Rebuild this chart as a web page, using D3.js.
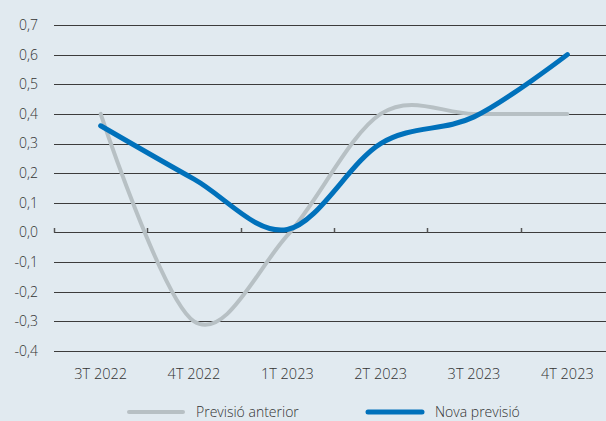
<!DOCTYPE html>
<html>
<head>
<meta charset="utf-8">
<script src="https://cdn.jsdelivr.net/npm/d3@7"></script>
<style>
  body { margin: 0; background: #e1eaf0; }
  svg { display: block; font-family: "Open Sans", sans-serif; font-weight: 300; }
</style>
</head>
<body>
<div id="chart"></div>
<script>
// Quarters on the x axis
const quarters = ["3T 2022", "4T 2022", "1T 2023", "2T 2023", "3T 2023", "4T 2023"];

// Series values
const previsioAnterior = [0.40, -0.30, -0.01, 0.40, 0.40, 0.40];
const novaPrevisio = [0.36, 0.18, 0.01, 0.30, 0.39, 0.60];

// Y ticks
const yTicks = [0.7, 0.6, 0.5, 0.4, 0.3, 0.2, 0.1, 0.0, -0.1, -0.2, -0.3, -0.4];

const series = [
    { name: "Previsió anterior", values: previsioAnterior, color: "#b7c0c4", width: 4 },
    { name: "Nova previsió", values: novaPrevisio, color: "#0071bb", width: 5 }
];

const W = 606, H = 421;
const margin = { top: 25, right: -8, bottom: 70, left: 54 };

const svg = d3.select("#chart")
    .append("svg")
    .attr("width", W)
    .attr("height", H);

svg.append("rect")
    .attr("width", W)
    .attr("height", H)
    .attr("fill", "#e1eaf0");

const x = d3.scaleBand()
    .domain(quarters)
    .range([margin.left, W - margin.right]);

const y = d3.scaleLinear()
    .domain([-0.4, 0.7])
    .range([351, 25]);

const fmt = v => d3.format(".1f")(v).replace(".", ",").replace("−", "-");

// Gridlines
svg.append("g")
    .selectAll("line")
    .data(yTicks)
    .join("line")
    .attr("x1", margin.left)
    .attr("x2", W - margin.right)
    .attr("y1", d => Math.round(y(d)) + 0.5)
    .attr("y2", d => Math.round(y(d)) + 0.5)
    .attr("stroke", "#3c3c3c")
    .attr("stroke-width", 1);

// Y labels
svg.append("g")
    .selectAll("text")
    .data(yTicks)
    .join("text")
    .attr("x", 38)
    .attr("y", d => y(d))
    .attr("dy", "0.35em")
    .attr("text-anchor", "end")
    .attr("fill", "#333")
    .style("font-size", "14px")
    .text(d => fmt(d));

// Small ticks on the zero line at band boundaries
const bounds = quarters.map(q => x(q));
svg.append("g")
    .selectAll("line")
    .data(bounds)
    .join("line")
    .attr("x1", d => Math.round(d) + 0.5)
    .attr("x2", d => Math.round(d) + 0.5)
    .attr("y1", Math.round(y(0)) - 4)
    .attr("y2", Math.round(y(0)) + 0.5)
    .attr("stroke", "#555")
    .attr("stroke-width", 1.5);

// X labels
svg.append("g")
    .selectAll("text")
    .data(quarters)
    .join("text")
    .attr("x", d => x(d) + x.bandwidth() / 2)
    .attr("y", 379)
    .attr("text-anchor", "middle")
    .attr("fill", "#333")
    .style("font-size", "14.5px")
    .text(d => d);

// Lines
const line = d3.line()
    .x((d, i) => x(quarters[i]) + x.bandwidth() / 2)
    .y(d => y(d))
    .curve(d3.curveCardinal.tension(0));

svg.append("g")
    .selectAll("path")
    .data(series)
    .join("path")
    .attr("d", d => line(d.values))
    .attr("fill", "none")
    .attr("stroke", d => d.color)
    .attr("stroke-width", d => d.width)
    .attr("stroke-linecap", "round")
    .attr("stroke-linejoin", "round");

// Legend
const legendX = [129, 368];
const legend = svg.append("g")
    .selectAll("g")
    .data(series)
    .join("g")
    .attr("transform", (d, i) => `translate(${legendX[i]}, 412)`);

legend.append("line")
    .attr("x1", 0)
    .attr("x2", 54)
    .attr("stroke", d => d.color)
    .attr("stroke-width", d => d.width)
    .attr("stroke-linecap", "round");

legend.append("text")
    .attr("x", 67)
    .attr("y", 5)
    .attr("fill", "#333")
    .style("font-size", "14px")
    .text(d => d.name);
</script>
</body>
</html>
